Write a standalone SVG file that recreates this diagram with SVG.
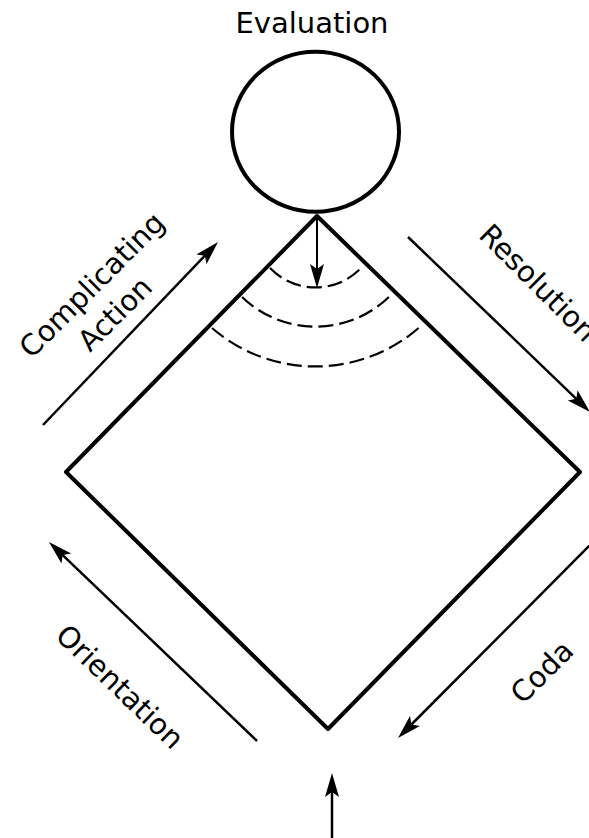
<svg xmlns="http://www.w3.org/2000/svg" width="589" height="838" viewBox="0 0 589 838">
<style>
  .lbl { font-family: "DejaVu Sans", "Liberation Sans", sans-serif; font-size: 29px; fill: #000; text-anchor: middle; }
  .thick { fill: none; stroke: #000; stroke-width: 4; stroke-linejoin: round; }
  .arrow { fill: none; stroke: #000; stroke-width: 2.5; marker-end: url(#ah); }
  .thin { fill: none; stroke: #000; stroke-width: 2; marker-end: url(#ah); }
  .dash { fill: none; stroke: #000; stroke-width: 2.2; stroke-dasharray: 15 6; }
</style>
<defs>
  <marker id="ah" markerUnits="userSpaceOnUse" markerWidth="30" markerHeight="20" refX="0" refY="0" orient="auto" overflow="visible">
    <path d="M19,0 L-5,-7 L0,0 L-5,7 Z" fill="#000"/>
  </marker>
</defs>
<rect width="589" height="838" fill="#fff"/>
<g id="evaluation">
  <ellipse cx="315.5" cy="131.7" rx="83.5" ry="80" class="thick"/>
  <text class="lbl" x="312" y="33">Evaluation</text>
</g>
<g id="diamond">
  <path class="thick" d="M317,216 L580,472 L328,729 L66,472 Z"/>
  <path class="dash" d="M270,268 A63,63 0 0,0 362,267"/>
  <path class="dash" d="M242,297 A106,106 0 0,0 391,295"/>
  <path class="dash" d="M212,328 A158,158 0 0,0 422,325"/>
</g>
<g id="labels">
  <text class="lbl" transform="translate(99,292) rotate(-45)">Complicating</text>
  <text class="lbl" transform="translate(122,321) rotate(-45)">Action</text>
  <text class="lbl" transform="translate(531,290) rotate(45)">Resolution</text>
  <text class="lbl" transform="translate(113,694) rotate(44)">Orientation</text>
  <text class="lbl" transform="translate(549,679) rotate(-45)">Coda</text>
</g>
<g id="connectors">
  <line class="thin" x1="317" y1="217" x2="317" y2="269"/>
  <line class="arrow" x1="43" y1="425" x2="204.9" y2="255.7"/>
  <line class="arrow" x1="408" y1="237" x2="576.3" y2="398.8"/>
  <line class="arrow" x1="257" y1="741" x2="62.7" y2="555.1"/>
  <line class="arrow" x1="600" y1="535" x2="411.4" y2="724.5"/>
  <line class="arrow" x1="332" y1="840" x2="332" y2="792"/>
</g>
</svg>
